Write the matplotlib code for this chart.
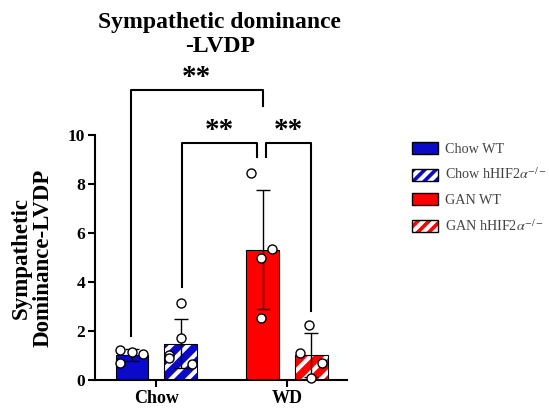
import matplotlib.pyplot as plt
import numpy as np
from matplotlib.patches import Patch
from matplotlib.legend_handler import HandlerTuple

plt.rcParams['font.family'] = ['Liberation Serif', 'DejaVu Serif']
plt.rcParams['mathtext.fontset'] = 'stix'
plt.rcParams['hatch.linewidth'] = 3.0

# Datos
grupos = ['Chow', 'WD']
series = ['Chow WT', 'Chow hHIF2$\\alpha^{-/-}$', 'GAN WT', 'GAN hHIF2$\\alpha^{-/-}$']
colores = ['#0a0ac8', '#0a0ac8', '#ff0000', '#ff0000']
rayado = [False, True, False, True]
grupo_de_serie = [0, 0, 1, 1]
puntos = [
    [1.22, 1.14, 1.06, 0.69],
    [3.14, 1.71, 1.02, 0.90, 0.65],
    [8.43, 5.33, 4.97, 2.52],
    [2.24, 1.10, 0.69, 0.08],
]
jitter = [
    [-0.09, 0.0, 0.085, -0.09],
    [0.0, 0.0, -0.09, -0.09, 0.085],
    [-0.09, 0.075, -0.01, -0.01],
    [-0.015, -0.09, 0.085, 0.0],
]
medias = [np.mean(p) for p in puntos]
sds = [np.std(p, ddof=1) for p in puntos]

fig = plt.figure(figsize=(5.49, 4.13), dpi=100)
ax = fig.add_axes([95 / 549, 33 / 413, 252 / 549, 245 / 413])

offs = [-0.187, 0.187, -0.187, 0.187]
ancho = 0.25
for i in range(4):
    x = grupo_de_serie[i] + offs[i]
    if rayado[i]:
        ax.bar(x, medias[i], ancho, color=colores[i], edgecolor='white', hatch='//', linewidth=0, zorder=2)
        ax.bar(x, medias[i], ancho, fill=False, edgecolor='black', linewidth=0.8, zorder=2)
    else:
        ax.bar(x, medias[i], ancho, color=colores[i], edgecolor='black', linewidth=0.8, zorder=2)
    ax.errorbar(x, medias[i], yerr=sds[i], color='black', capsize=5, elinewidth=1, capthick=1, zorder=3)
    ax.plot(x + np.array(jitter[i]), puntos[i], 'o', ms=6.5, mfc='white', mec='black', mew=1, zorder=4,
            clip_on=False)

ax.set_xlim(-0.47, 1.46)
ax.set_ylim(0, 10)
ax.set_yticks([0, 2, 4, 6, 8, 10])
ax.set_xticks([0, 1])
ax.set_xticklabels(grupos, fontweight='bold', fontsize=13)
for t in ax.get_yticklabels():
    t.set_fontweight('bold')
    t.set_fontsize(12.5)
ax.spines['top'].set_visible(False)
ax.spines['right'].set_visible(False)
ax.spines['left'].set_linewidth(1.5)
ax.spines['bottom'].set_linewidth(1.5)
ax.tick_params(width=1.5, length=5, pad=2)

# Corchetes de significancia
def corchete(x1, x2, y, y1, y2, texto):
    ax.plot([x1, x1, x2, x2], [y1, y, y, y2], color='black', lw=1.5, clip_on=False)
    ax.text((x1 + x2) / 2, y + 0.2, texto, ha='center', va='baseline', fontsize=21, fontweight='bold')

xs = [g + o for g, o in zip(grupo_de_serie, offs)]
corchete(xs[0] - 0.01, xs[2], 11.84, 1.8, 11.2, '**')
corchete(xs[1] + 0.01, xs[2] - 0.045, 9.67, 3.8, 9.1, '**')
corchete(xs[2] + 0.03, xs[3], 9.67, 9.1, 2.8, '**')

fig.text(0.40, 1 - 12 / 413, 'Sympathetic dominance\n-LVDP', ha='center', va='top', fontsize=17,
         fontweight='bold', linespacing=1.2)
fig.text(0.058, (413 - 258) / 413, 'Sympathetic\nDominance-LVDP', ha='center', va='center',
         rotation=90, fontsize=16.5, fontweight='bold', linespacing=1.05)

handles = []
for i in range(4):
    if rayado[i]:
        h = (Patch(facecolor=colores[i], edgecolor='white', hatch='///', linewidth=0),
             Patch(fill=False, edgecolor='black', linewidth=1))
    else:
        h = (Patch(facecolor=colores[i], edgecolor='black', linewidth=1),)
    handles.append(h)
fig.legend(handles, series, loc='upper left', bbox_to_anchor=(405 / 549, (413 - 135) / 413),
           frameon=False, fontsize=10.2, handlelength=1.8, handleheight=0.95, labelspacing=0.75,
           handletextpad=0.5, borderpad=0, labelcolor='#444444',
           handler_map={tuple: HandlerTuple(ndivide=1, pad=0)})

plt.savefig('out.png', dpi=100)
